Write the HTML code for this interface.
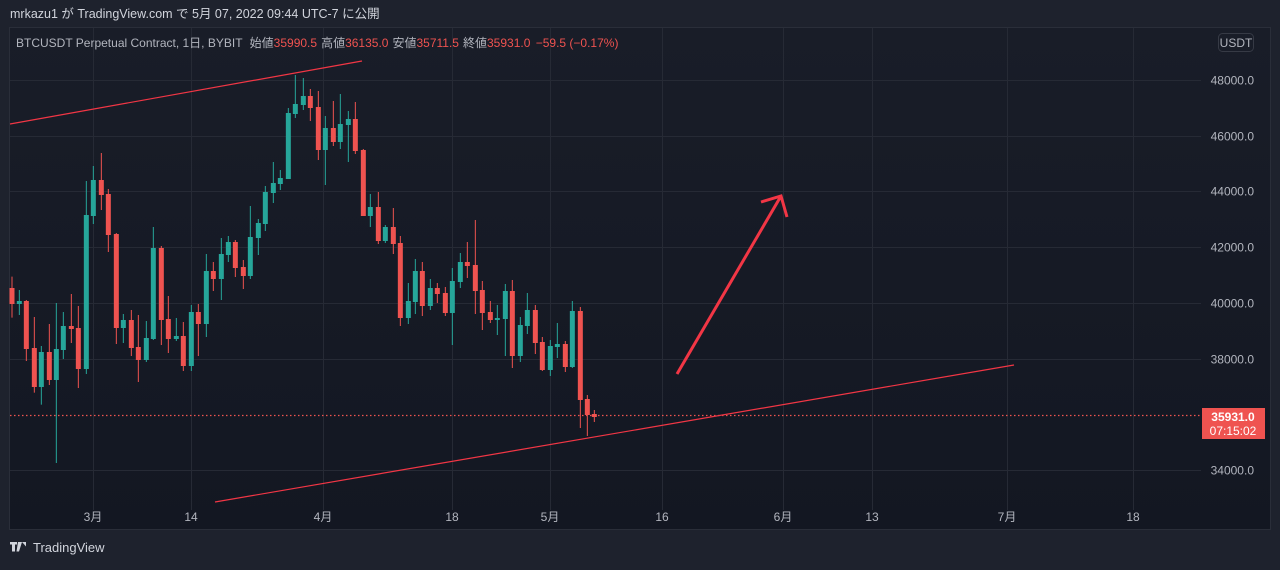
<!DOCTYPE html>
<html><head><meta charset="utf-8"><style>
body{margin:0;width:1280px;height:565px;background:#1e222d;overflow:hidden;font-family:"Liberation Sans","Noto Sans CJK JP",sans-serif}
svg text{font-family:"Liberation Sans","Noto Sans CJK JP",sans-serif}
</style></head><body>
<svg id="s" width="1280" height="565" xmlns="http://www.w3.org/2000/svg">
<defs><linearGradient id="g" x1="0" y1="0" x2="0" y2="1"><stop offset="0" stop-color="#191d28"/><stop offset="1" stop-color="#131722"/></linearGradient></defs>
<rect x="0" y="0" width="1280" height="565" fill="#1e222d"/>
<text x="10" y="18" fill="#d1d4dc" font-size="12.5">mrkazu1 が TradingView.com で 5月 07, 2022 09:44 UTC-7 に公開</text>
<rect x="9.5" y="27.5" width="1261" height="502" fill="url(#g)" stroke="#2a2e39"/>
<g id="grid" stroke="#262a35" stroke-width="1"></g>
<text x="16" y="47" font-size="12" fill="#b2b5be">BTCUSDT Perpetual Contract, 1日, BYBIT <tspan dx="4">始値</tspan><tspan fill="#ef5350">35990.5</tspan><tspan dx="4">高値</tspan><tspan fill="#ef5350">36135.0</tspan><tspan dx="4">安値</tspan><tspan fill="#ef5350">35711.5</tspan><tspan dx="4">終値</tspan><tspan fill="#ef5350">35931.0 <tspan dx="2">−59.5 (−0.17%)</tspan></tspan></text>
<rect x="1218.5" y="33.5" width="35" height="18" rx="4" fill="none" stroke="#363a45"/>
<text x="1236" y="47" font-size="12" fill="#b2b5be" text-anchor="middle">USDT</text>
<g id="c"></g>
<line x1="10" y1="415.5" x2="1201" y2="415.5" stroke="#ef5350" stroke-width="1.3" stroke-dasharray="1.5,2.5"/>
<line x1="10" y1="124" x2="362" y2="61" stroke="#f23645" stroke-width="1.2"/>
<line x1="215" y1="502" x2="1014" y2="365" stroke="#f23645" stroke-width="1.2"/>
<g stroke="#f23645" stroke-width="3" fill="none" stroke-linecap="butt"><line x1="677" y1="374" x2="781" y2="196"/><polyline points="761,202 781,196 787,217"/></g>
<rect x="1202" y="408" width="63" height="31" fill="#ef5350"/>
<text x="1233" y="421" font-size="12" fill="#fff" text-anchor="middle" font-weight="bold">35931.0</text>
<text x="1233" y="435" font-size="12" fill="#fff" text-anchor="middle">07:15:02</text>
<g id="lbl" font-size="12" fill="#b2b5be"></g>
<g fill="#d1d4dc"><path d="M10 542h7v2.5h-2v7h-3v-7h-2z M18 542h4l-3 9.5h-2.5z M22 542h4v4.5z"/></g>
<text x="33" y="552" font-size="13" fill="#d1d4dc">TradingView</text>
</svg>
<script>
var NS="http://www.w3.org/2000/svg";
function el(p,t,a){var e=document.createElementNS(NS,t);for(var k in a)e.setAttribute(k,a[k]);p.appendChild(e);return e;}
var grid=document.getElementById('grid'),lbl=document.getElementById('lbl');
var vx=[93,191,323,452,550,662,783,872,1007,1133],vl=["3月","14","4月","18","5月","16","6月","13","7月","18"];
vx.forEach(function(x,i){el(grid,'line',{x1:x+.5,y1:28,x2:x+.5,y2:510});var t=el(lbl,'text',{x:x,y:521,'text-anchor':'middle'});t.textContent=vl[i];});
for(var i=0;i<8;i++){var y=Math.round(80+i*55.7)+.5;if(i!=6)el(grid,'line',{x1:10,y1:y,x2:1201,y2:y});if(i!=6){var t=el(lbl,'text',{x:1254,y:y+4,'text-anchor':'end'});t.textContent=(48000-i*2000)+".0";}}
var A=[[36,'r',650,684,732,773],[58,'g',690,723,732,765],[79,'r',720,723,867,903],[103,'r',771,864,981,998],[124,'g',858,876,981,1034],[148,'r',792,876,960,975],[169,'g',729,867,960,1209],[190,'g',756,798,870,897],[214,'r',702,798,807,849],[235,'r',738,804,927,984],[259,'g',363,465,927,942],[280,'g',318,360,468,492],[304,'r',279,360,405,450],[325,'r',387,402,525,576],[349,'r',519,522,804,852],[370,'g',762,780,804,849],[394,'r',750,780,864,888],[415,'r',765,861,900,966],[439,'g',783,834,900,906],[460,'g',501,564,837,840],[484,'r',558,564,780,855],[505,'r',708,777,837,879],[529,'g',774,828,837,843],[550,'r',786,828,918,933],[574,'g',735,756,918,933],[595,'r',732,756,792,888],[619,'g',582,633,792,831],[640,'r',606,633,657,693],[664,'g',534,582,657,720],[685,'g',528,546,585,606],[706,'r',540,546,624,651],[730,'r',600,621,648,687],[751,'g',438,531,648,657],[775,'g',477,489,534,585],[796,'g',378,396,492,513],[820,'g',306,369,399,429],[841,'g',330,354,372,390],[865,'g',144,159,357,357],[886,'g',45,132,162,174],[910,'g',54,108,135,150],[931,'r',87,108,144,183],[955,'r',93,141,270,300]];
var B=[[76,'g',168,204,270,375],[100,'r',123,204,246,258],[121,'g',102,192,246,267],[145,'g',153,177,195,306],[166,'r',126,177,273,282],[190,'r',267,270,468,468],[211,'g',402,441,468,501],[235,'r',396,441,543,552],[256,'g',495,501,543,549],[280,'r',444,501,552,582],[301,'r',528,549,774,798],[325,'g',669,723,774,792],[346,'g',597,633,726,762],[367,'r',606,633,738,768],[391,'g',657,684,738,750],[412,'r',669,684,702,729],[436,'r',681,699,759,768],[457,'g',624,663,759,855],[481,'g',579,606,666,684],[502,'r',546,606,618,654],[526,'r',480,615,693,762],[547,'r',663,690,759,810],[571,'r',723,756,780,789],[592,'g',735,774,780,825],[616,'g',672,693,777,888],[637,'r',660,693,888,924],[661,'g',771,795,888,906],[682,'g',699,750,798,822],[706,'r',735,750,849,882],[727,'r',831,846,930,933],[751,'g',840,858,930,948],[772,'g',789,852,861,894],[796,'r',843,852,921,936],[817,'g',723,753,921,924],[841,'r',741,753,1020,1104],[862,'r',1005,1017,1065,1128],[883,'r',1050,1062,1071,1086]];
var c=document.getElementById('c');
function draw(arr,xo){arr.forEach(function(d){var x=xo+d[0]/3,col=d[1]=='g'?'#26a69a':'#ef5350';var y=function(v){return 60+v/3;};
el(c,'line',{x1:x,y1:y(d[2]),x2:x,y2:y(d[5]),stroke:col,'stroke-width':1});
el(c,'rect',{x:x-2.5,y:y(d[3]),width:5,height:Math.max(1,y(d[4])-y(d[3])),fill:col});});}
draw(A,0);draw(B,300);
</script>
</body></html>
